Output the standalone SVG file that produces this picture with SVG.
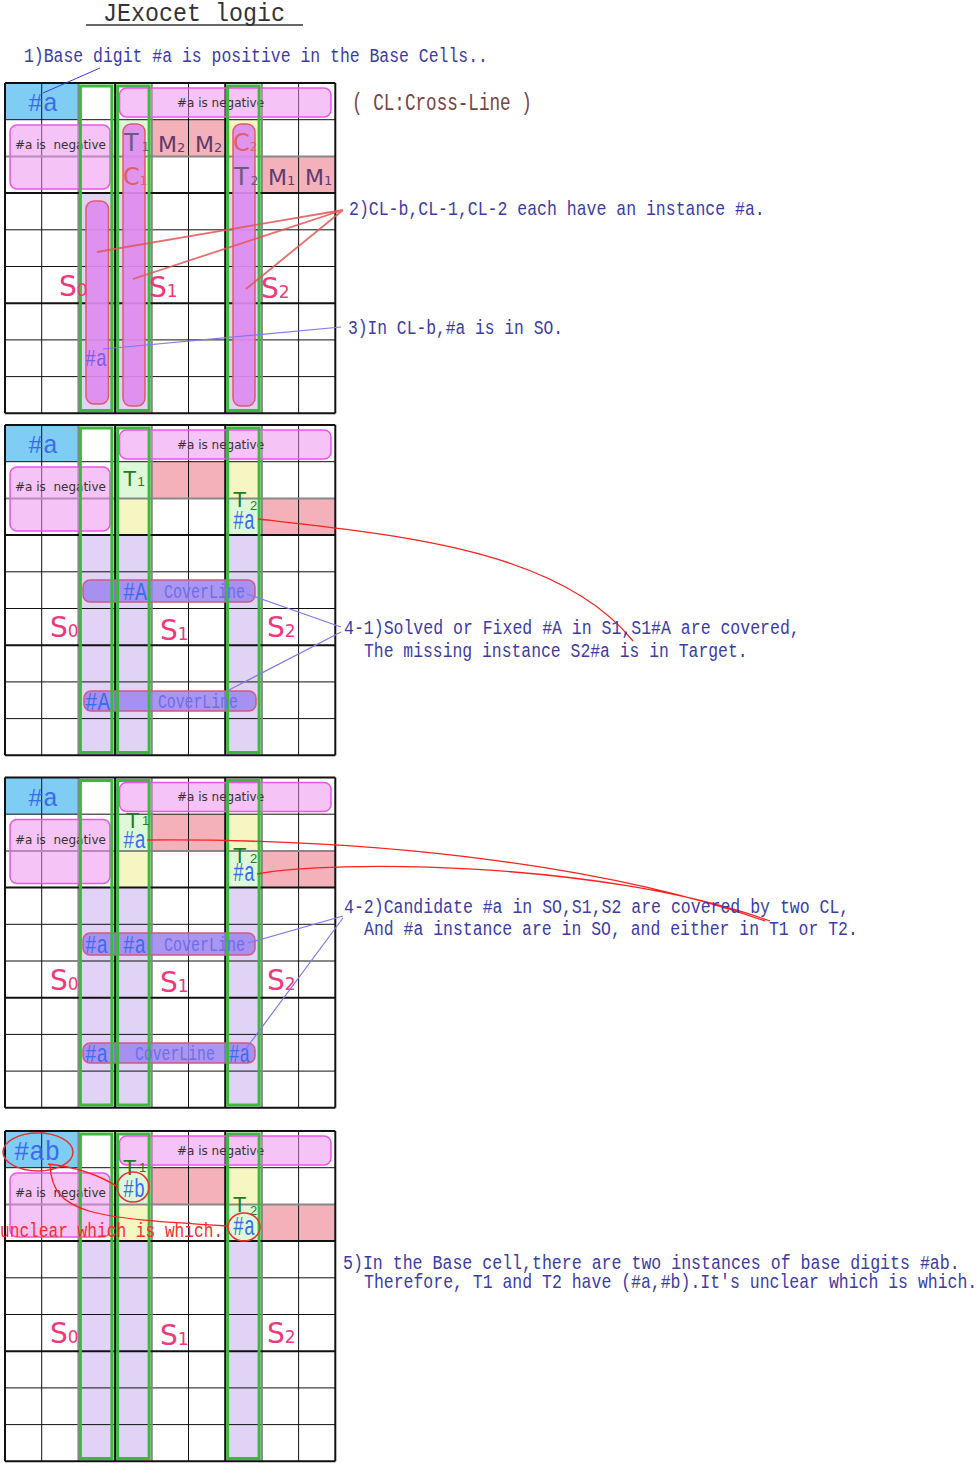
<svg xmlns="http://www.w3.org/2000/svg" width="977" height="1463" viewBox="0 0 977 1463">
<style>
.gl{stroke:#111;stroke-width:1;fill:none}
.gt{stroke:#111;stroke-width:2;fill:none}
.gg{stroke:#888;stroke-width:2;fill:none}
.pink{fill:#ee88ee;fill-opacity:.5;stroke:#f050f0;stroke-width:1.5}
.neg{font-family:"DejaVu Sans",sans-serif;font-size:12px;fill:#333}
.green{fill:none;stroke:#3cb83c;stroke-width:3}
.blue{font-family:"Liberation Mono",monospace;fill:#3a6cf0}
.sl{font-family:"DejaVu Sans",sans-serif;font-size:28px;fill:#f0387a}
.sub{font-size:17px}
.cl{fill:#9b84ef;fill-opacity:.85;stroke:#d05a80;stroke-width:1.5}
.clt{font-family:"Liberation Mono",monospace;font-size:20px;fill:#6d6dea}
.tg{font-family:"Liberation Sans",sans-serif;font-size:22px;fill:#237a23}
.tgs{font-family:"Liberation Sans",sans-serif;font-size:13px;fill:#237a23}
.note{font-family:"Liberation Mono",monospace;font-size:21px;fill:#3b3ba8}
.red{fill:none;stroke:#ff2020;stroke-width:1.3}
.blu{fill:none;stroke:#8078f0;stroke-width:1.2}
.vio{fill:#de8bef;fill-opacity:.92;stroke:#e05a6a;stroke-width:1.5}
.mm{font-family:"DejaVu Sans",sans-serif;font-size:22px;fill:#5e3b6e}
.tt{font-family:"DejaVu Sans",sans-serif;font-size:24px}
.el{fill:none;stroke:#e83030;stroke-width:1.5}
</style>
<defs>
<g id="fills">
<rect x="5" y="0" width="73.4" height="36.7" fill="#7fcdf4"/>
<rect x="151.8" y="36.7" width="73.4" height="36.7" fill="#f5b1b9"/>
<rect x="261.9" y="73.4" width="73.4" height="36.7" fill="#f5b1b9"/>
<rect x="115.1" y="36.7" width="36.7" height="36.7" fill="#def9d9"/>
<rect x="115.1" y="73.4" width="36.7" height="36.7" fill="#f6f6c2"/>
<rect x="225.2" y="36.7" width="36.7" height="36.7" fill="#f6f6c2"/>
<rect x="225.2" y="73.4" width="36.7" height="36.7" fill="#def9d9"/>
<rect x="78.4" y="110.1" width="36.7" height="220.2" fill="#e0d3f5"/>
<rect x="115.1" y="110.1" width="36.7" height="220.2" fill="#e0d3f5"/>
<rect x="225.2" y="110.1" width="36.7" height="220.2" fill="#e0d3f5"/>
</g>
<g id="lines">
<path class="gl" d="M41.7,0V330.3M188.5,0V330.3M298.6,0V330.3M5,36.7H335.3M5,146.8H335.3M5,183.5H335.3M5,256.9H335.3M5,293.6H335.3"/>
<path class="gg" d="M78.4,0V330.3M151.8,0V330.3M261.9,0V330.3M5,73.4H335.3"/>
<path class="gt" d="M5,0V330.3M115.1,0V330.3M225.2,0V330.3M335.3,0V330.3M5,0H335.3M5,110.1H335.3M5,220.2H335.3M5,330.3H335.3"/>
</g>
<g id="negs">
<rect class="pink" x="119.5" y="5" width="211.5" height="29" rx="7"/>
<text class="neg" x="177" y="23.5">#a is negative</text>
<rect class="pink" x="10" y="42" width="100" height="64" rx="7"/>
<text class="neg" x="15" y="66" xml:space="preserve">#a is  negative</text>
</g>
<g id="greens">
<rect class="green" x="80.4" y="3" width="31.5" height="324.5"/>
<rect class="green" x="117.6" y="3" width="31.5" height="324.5"/>
<rect class="green" x="227.6" y="3" width="31.5" height="324.5"/>
</g>
</defs>

<g id="title">
<text transform="translate(103,21) scale(0.897,1)" font-family="Liberation Mono, monospace" font-size="26" fill="#333">JExocet logic</text>
<line x1="86" y1="25" x2="303" y2="25" stroke="#333" stroke-width="1.5"/>
</g>
<g id="legend">
<text transform="translate(352,110) scale(0.735,1)" font-family="Liberation Mono, monospace" font-size="24" fill="#7a4242">( CL:Cross-Line )</text>
</g>

<g id="grid1" transform="translate(0,83)">
<use href="#fills"/>
<use href="#lines"/>
<use href="#negs"/>
<rect class="vio" x="86" y="118" width="22.5" height="203" rx="8"/>
<rect class="vio" x="123" y="41" width="22" height="282" rx="8"/>
<rect class="vio" x="233" y="41" width="22" height="282" rx="8"/>
<use href="#greens"/>
<text class="blue" transform="translate(28,28) scale(0.96,1)" font-size="26">#a</text>
<text class="tt" x="124" y="68" fill="#6b5b7b">T<tspan dx="3" font-size="12">1</tspan></text>
<text class="tt" x="123" y="102" fill="#e35d6a">C<tspan font-size="12">1</tspan></text>
<text class="tt" x="233" y="68" fill="#e35d6a">C<tspan font-size="12">2</tspan></text>
<text class="tt" x="234" y="102" fill="#6b5b7b">T<tspan dx="2" font-size="12">2</tspan></text>
<text class="mm" x="158" y="69">M<tspan font-size="13">2</tspan></text>
<text class="mm" x="195" y="69">M<tspan font-size="13">2</tspan></text>
<text class="mm" x="268" y="102">M<tspan font-size="13">1</tspan></text>
<text class="mm" x="305" y="102">M<tspan font-size="13">1</tspan></text>
<text class="sl" x="59" y="213">S<tspan class="sub">0</tspan></text>
<text class="sl" x="149" y="214">S<tspan class="sub">1</tspan></text>
<text class="sl" x="261" y="215">S<tspan class="sub">2</tspan></text>
<text transform="translate(85,283) scale(0.764,1)" font-family="Liberation Mono, monospace" font-size="24" fill="#7a5cea">#a</text>
</g>

<g id="grid2" transform="translate(0,425)">
<use href="#fills"/>
<use href="#lines"/>
<use href="#negs"/>
<rect class="cl" x="83" y="155" width="172" height="22" rx="7"/>
<rect class="cl" x="84" y="266" width="172" height="20" rx="7"/>
<use href="#greens"/>
<text class="blue" transform="translate(28,28) scale(0.96,1)" font-size="26">#a</text>
<text class="tg" x="123" y="61" font-size="26">T<tspan dx="1" font-size="13">1</tspan></text>
<text class="tg" x="233" y="82">T</text>
<text class="tgs" x="250" y="85">2</text>
<text class="blue" transform="translate(233,104) scale(0.655,1)" font-size="28">#a</text>
<text class="blue" transform="translate(123,175) scale(0.8,1)" font-size="25">#A</text>
<text class="clt" transform="translate(164,173) scale(0.75,1)">CoverLine</text>
<text class="blue" transform="translate(85,285) scale(0.833,1)" font-size="25">#A</text>
<text class="clt" transform="translate(158,283) scale(0.74,1)">CoverLine</text>
<text class="sl" x="50" y="212">S<tspan class="sub">0</tspan></text>
<text class="sl" x="160" y="215">S<tspan class="sub">1</tspan></text>
<text class="sl" x="267" y="212">S<tspan class="sub">2</tspan></text>
</g>

<g id="grid3" transform="translate(0,777.5)">
<use href="#fills"/>
<use href="#lines"/>
<use href="#negs"/>
<rect class="cl" x="83" y="155.5" width="172" height="22" rx="7"/>
<rect class="cl" x="83" y="265.5" width="172" height="20" rx="7"/>
<use href="#greens"/>
<text class="blue" transform="translate(28,28) scale(0.96,1)" font-size="26">#a</text>
<text class="tg" x="126" y="50.5">T</text>
<text class="tgs" x="142" y="47">1</text>
<text class="blue" transform="translate(123,70.5) scale(0.767,1)" font-size="25">#a</text>
<text class="tg" x="233" y="85">T</text>
<text class="tgs" x="250" y="85">2</text>
<text class="blue" transform="translate(233,103.5) scale(0.655,1)" font-size="28">#a</text>
<text class="blue" transform="translate(85,175.5) scale(0.767,1)" font-size="25">#a</text>
<text class="blue" transform="translate(123,175.5) scale(0.767,1)" font-size="25">#a</text>
<text class="clt" transform="translate(164,173.5) scale(0.75,1)">CoverLine</text>
<text class="blue" transform="translate(85,284.5) scale(0.767,1)" font-size="25">#a</text>
<text class="clt" transform="translate(135,282.5) scale(0.74,1)">CoverLine</text>
<text class="blue" transform="translate(229,284.5) scale(0.7,1)" font-size="25">#a</text>
<text class="sl" x="50" y="212">S<tspan class="sub">0</tspan></text>
<text class="sl" x="160" y="214.5">S<tspan class="sub">1</tspan></text>
<text class="sl" x="267" y="212">S<tspan class="sub">2</tspan></text>
</g>

<g id="grid4" transform="translate(0,1131)">
<use href="#fills"/>
<use href="#lines"/>
<use href="#negs"/>
<use href="#greens"/>
<text class="blue" transform="translate(14,29) scale(0.913,1)" font-size="28">#ab</text>
<ellipse class="el" cx="38" cy="21" rx="35" ry="19"/>
<text class="tg" x="123" y="44">T</text>
<text class="tgs" x="139" y="41">1</text>
<text class="blue" transform="translate(123,66) scale(0.733,1)" font-size="25">#b</text>
<ellipse class="el" cx="133" cy="56" rx="16" ry="15"/>
<text class="tg" x="233" y="81">T</text>
<text class="tgs" x="250" y="84">2</text>
<text class="blue" transform="translate(233,104) scale(0.655,1)" font-size="28">#a</text>
<ellipse class="el" cx="244" cy="96" rx="16" ry="14"/>
<text class="sl" x="50" y="212">S<tspan class="sub">0</tspan></text>
<text class="sl" x="160" y="214">S<tspan class="sub">1</tspan></text>
<text class="sl" x="267" y="212">S<tspan class="sub">2</tspan></text>
</g>

<g id="connectors">
<path d="M100,68L43,93" fill="none" stroke="#3a3ae8" stroke-width="1"/>
<path d="M343,210L97,252M343,210L133,279M343,210L246,289" fill="none" stroke="#e05555" stroke-opacity=".85" stroke-width="1.8"/>
<path class="blu" d="M103,349L341,327"/>
<path class="red" d="M258,519C400,535 560,550 633,641"/>
<path class="blu" d="M247,594L341,627M227,691L341,632"/>
<path class="red" d="M147,840C400,838 620,870 765,921M257,874C330,860 600,860 770,921"/>
<path class="blu" d="M248,943L343,916M245,1050L343,918"/>
<path class="red" d="M48,1164Q88,1168 118,1187M50,1165C52,1215 95,1218 228,1226"/>
</g>

<g id="notes">
<text class="note" transform="translate(24,62) scale(0.7835,1)">1)Base digit #a is positive in the Base Cells..</text>
<text class="note" transform="translate(349,215) scale(0.786,1)">2)CL-b,CL-1,CL-2 each have an instance #a.</text>
<text class="note" transform="translate(348,334) scale(0.776,1)">3)In CL-b,#a is in SO.</text>
<text class="note" transform="translate(344,634) scale(0.787,1)">4-1)Solved or Fixed #A in S1,S1#A are covered,</text>
<text class="note" transform="translate(364,657) scale(0.781,1)">The missing instance S2#a is in Target.</text>
<text class="note" transform="translate(344,913) scale(0.787,1)">4-2)Candidate #a in SO,S1,S2 are covered by two CL,</text>
<text class="note" transform="translate(364,935) scale(0.784,1)">And #a instance are in SO, and either in T1 or T2.</text>
<text class="note" transform="translate(343,1269) scale(0.79,1)">5)In the Base cell,there are two instances of base digits #ab.</text>
<text class="note" transform="translate(364,1288) scale(0.785,1)">Therefore, T1 and T2 have (#a,#b).It's unclear which is which.</text>
<text transform="translate(0,1237) scale(0.77,1)" font-family="Liberation Mono, monospace" font-size="21" fill="#ff2a2a">unclear which is which.</text>
</g>
</svg>
